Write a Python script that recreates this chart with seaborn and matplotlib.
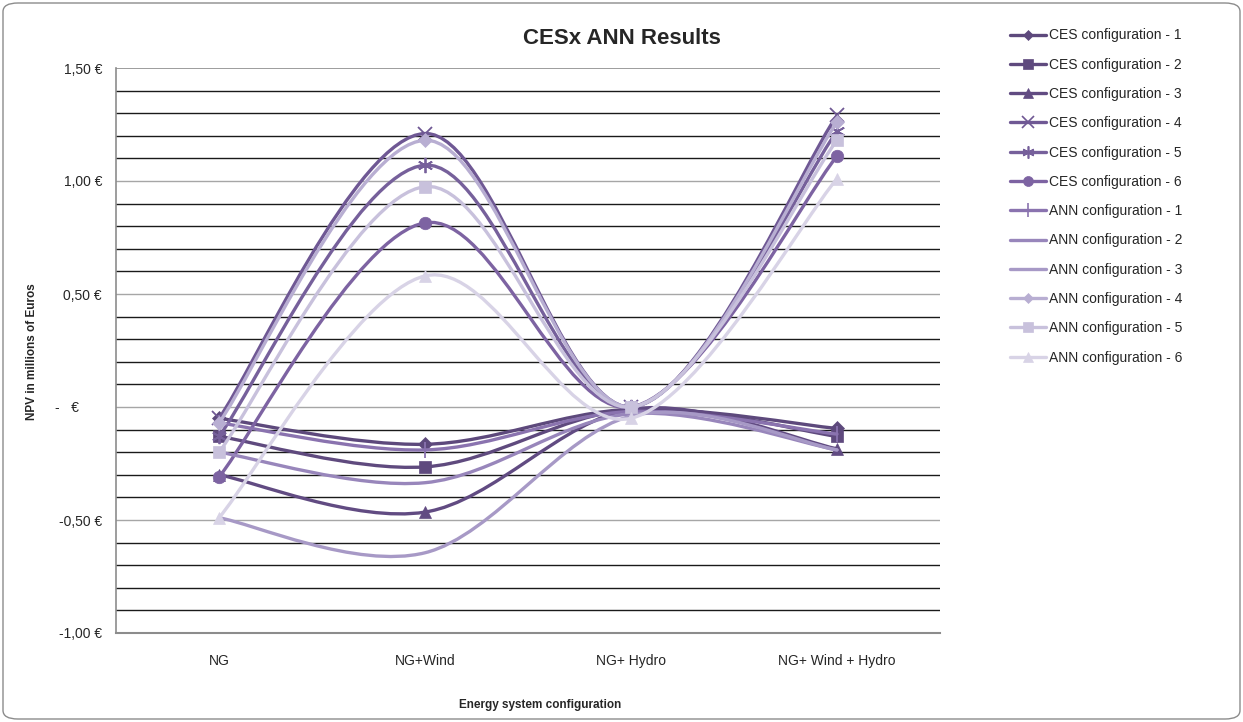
import numpy as np
import matplotlib
matplotlib.use("Agg")
import matplotlib.pyplot as plt
from matplotlib.path import Path
from matplotlib.patches import PathPatch, FancyBboxPatch
from matplotlib.lines import Line2D
import seaborn as sns

# categories on the x axis
categories = ["NG", "NG+Wind", "NG+ Hydro", "NG+ Wind + Hydro"]

# NPV in millions of euros
ces_1 = [-0.05, -0.165, -0.01, -0.095]
ces_2 = [-0.13, -0.265, -0.01, -0.13]
ces_3 = [-0.30, -0.465, -0.01, -0.185]
ces_4 = [-0.05, 1.21, 0.00, 1.29]
ces_5 = [-0.13, 1.07, 0.00, 1.22]
ces_6 = [-0.31, 0.815, 0.00, 1.11]
ann_1 = [-0.07, -0.19, -0.02, -0.12]
ann_2 = [-0.20, -0.335, -0.03, -0.19]
ann_3 = [-0.49, -0.645, -0.04, -0.19]
ann_4 = [-0.07, 1.18, 0.00, 1.26]
ann_5 = [-0.20, 0.975, 0.00, 1.18]
ann_6 = [-0.49, 0.58, -0.05, 1.01]

series_names = ["CES configuration - 1", "CES configuration - 2", "CES configuration - 3",
                "CES configuration - 4", "CES configuration - 5", "CES configuration - 6",
                "ANN configuration - 1", "ANN configuration - 2", "ANN configuration - 3",
                "ANN configuration - 4", "ANN configuration - 5", "ANN configuration - 6"]
series_values = [ces_1, ces_2, ces_3, ces_4, ces_5, ces_6,
                 ann_1, ann_2, ann_3, ann_4, ann_5, ann_6]
series_colors = ["#5d497c", "#5f4a7e", "#614b82", "#6f5894", "#76609b", "#7d63a2",
                 "#8a73af", "#9886bb", "#a799c6", "#b8aed2", "#c8c1dc", "#d8d3e6"]
series_markers = ["D", "s", "^", "x", (6, 2, 0), "o",
                  "|", None, None, "D", "s", "^"]
marker_sizes = [7, 9, 9, 10, 11, 9, 12, 0, 0, 7, 9, 9]

yticks = [-1.0, -0.5, 0.0, 0.5, 1.0, 1.5]
ytick_labels = ["-1,00 €", "-0,50 €", "-   €      ", "0,50 €", "1,00 €", "1,50 €"]

sns.set_style("white")
plt.rcParams["font.family"] = ["Liberation Sans", "DejaVu Sans"]


def smooth_path(xs, ys):
    # excel-style smoothed line: cubic bezier through the points
    pts = np.column_stack([xs, ys]).astype(float)
    n = len(pts)
    verts = [pts[0]]
    codes = [Path.MOVETO]
    for i in range(n - 1):
        p0 = pts[max(i - 1, 0)]
        p1 = pts[i]
        p2 = pts[i + 1]
        p3 = pts[min(i + 2, n - 1)]
        verts += [p1 + (p2 - p0) / 6, p2 - (p3 - p1) / 6, p2]
        codes += [Path.CURVE4] * 3
    return Path(verts, codes)


fig = plt.figure(figsize=(12.43, 7.22), dpi=100)
ax = fig.add_axes([116 / 1243, 1 - 633 / 722, 824 / 1243, 565 / 722])

# horizontal grid every 0.1
for v in np.arange(-9, 15) / 10:
    major = abs(round(v * 10)) % 5 == 0
    ax.axhline(v, color="#a6a6a6" if major else "#1a1a1a", lw=1.0, zorder=0)

x = np.arange(len(categories))
handles = []
for i, (name, vals, col, mk, ms) in enumerate(zip(series_names, series_values,
                                                    series_colors, series_markers, marker_sizes)):
    ax.add_patch(PathPatch(smooth_path(x, vals), facecolor="none", edgecolor=col,
                           lw=2.4, zorder=2 + i, capstyle="round"))
    thin = mk in ("x", "|") or isinstance(mk, tuple)
    if mk is not None:
        ax.plot(x, vals, linestyle="none", marker=mk, markersize=ms, color=col,
                markeredgewidth=1.3 if thin else 0.5, zorder=2 + i)
    handles.append(Line2D([0], [0], color=col, lw=2.4, marker=mk,
                          markersize=ms * 0.8 if mk is not None else 0,
                          markeredgewidth=1.2 if thin else 0.5))

ax.set_xlim(-0.5, len(categories) - 0.5)
ax.set_ylim(-1.0, 1.5)
ax.set_xticks(x)
ax.set_xticklabels(categories, fontsize=10)
ax.set_yticks(yticks)
ax.set_yticklabels(ytick_labels, fontsize=10)
ax.tick_params(axis="x", length=0, pad=15)
ax.tick_params(axis="y", length=0, pad=10)
for side in ["top", "right"]:
    ax.spines[side].set_visible(False)
ax.spines["left"].set_color("#8c8c8c")
ax.spines["bottom"].set_color("#8c8c8c")
ax.spines["left"].set_linewidth(1.2)
ax.spines["bottom"].set_linewidth(1.5)
ax.axhline(1.5, color="#8c8c8c", lw=1.2, zorder=0)

fig.text(540 / 1243, 1 - 705 / 722, "Energy system configuration", fontsize=8.5,
         fontweight="bold", ha="center", va="center")
fig.text(32 / 1243, 1 - 352 / 722, "NPV in millions of Euros", fontsize=8.5,
         fontweight="bold", ha="center", va="center", rotation=90)

fig.text(622 / 1243, 1 - 38 / 722, "CESx ANN Results", fontsize=16, fontweight="bold",
         ha="center", va="center")

fig.legend(handles, series_names, loc="upper left",
           bbox_to_anchor=(997 / 1243, 1 - 16 / 722), frameon=False, fontsize=10,
           handlelength=2.6, handletextpad=0.25, labelspacing=1.1)

fig.patches.append(FancyBboxPatch((3 / 1243, 3 / 722), 1237 / 1243, 716 / 722,
                                  boxstyle="round,pad=0,rounding_size=0.012",
                                  transform=fig.transFigure, facecolor="none",
                                  edgecolor="#8c8c8c", lw=1.0))

fig.savefig("out.png", dpi=100)
